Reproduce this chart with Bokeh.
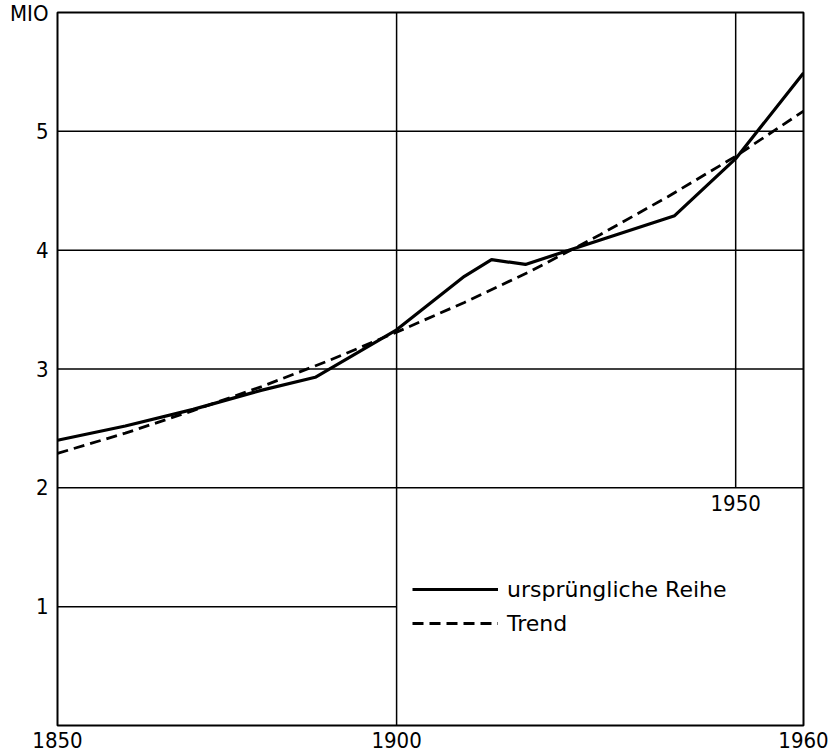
from bokeh.plotting import figure
from bokeh.models import Range1d, FixedTicker, Legend, LegendItem, Label
from bokeh.embed import file_html
from bokeh.resources import INLINE

# --- data ---
years_orig = [1850, 1860, 1870, 1880, 1888, 1900, 1910, 1914, 1919, 1941, 1950, 1960]
values_orig = [2.40, 2.52, 2.66, 2.82, 2.93, 3.33, 3.78, 3.92, 3.88, 4.29, 4.77, 5.49]

years_trend = [1850, 1860, 1870, 1880, 1890, 1900, 1910, 1920, 1930, 1940, 1950, 1960]
values_trend = [2.29, 2.46, 2.65, 2.85, 3.07, 3.31, 3.56, 3.83, 4.13, 4.45, 4.79, 5.17]

x_ticks = [1850, 1900, 1960]
y_ticks = [1, 2, 3, 4, 5]
y_unit = "MIO"
y_unit_at = 6
inner_year_label = 1950

# grid structure of the original drawing
hgrid_y = [1, 2, 3, 4, 5]
hgrid_x0 = [1850, 1850, 1850, 1850, 1850]
hgrid_x1 = [1900, 1960, 1960, 1960, 1960]
vgrid_x = [1900, 1950]
vgrid_y0 = [0, 2]
vgrid_y1 = [6, 6]

FONT = "DejaVu Sans Condensed"
FONT_LEG = "DejaVu Sans"
FS = "22px"

p = figure(width=833, height=754, output_backend="svg", toolbar_location=None,
           x_range=Range1d(1850, 1960), y_range=Range1d(0, 6),
           min_border_left=57, min_border_right=30, min_border_top=12, min_border_bottom=29)
p.xgrid.visible = False
p.ygrid.visible = False
p.outline_line_color = "black"
p.outline_line_width = 2
p.background_fill_color = "white"
p.border_fill_color = "white"

p.segment(x0=hgrid_x0, y0=hgrid_y, x1=hgrid_x1, y1=hgrid_y, line_color="black", line_width=1.5)
p.segment(x0=vgrid_x, y0=vgrid_y0, x1=vgrid_x, y1=vgrid_y1, line_color="black", line_width=1.5)

r1 = p.line(years_orig, values_orig, line_color="black", line_width=3.2)
r2 = p.line(years_trend, values_trend, line_color="black", line_width=2.8, line_dash="11 6")

for ax in (p.xaxis[0], p.yaxis[0]):
    ax.axis_line_color = None
    ax.major_tick_line_color = None
    ax.minor_tick_line_color = None
    ax.major_label_text_font = FONT
    ax.major_label_text_font_size = FS
    ax.major_label_text_color = "black"

p.xaxis[0].ticker = FixedTicker(ticks=x_ticks)
p.xaxis[0].major_label_standoff = 0
p.yaxis[0].ticker = FixedTicker(ticks=y_ticks + [y_unit_at])
p.yaxis[0].major_label_overrides = {y_unit_at: y_unit}
p.yaxis[0].major_label_standoff = 3

p.add_layout(Label(x=inner_year_label, y=2, y_offset=-7, text=str(inner_year_label),
                   text_align="center", text_baseline="top", text_font=FONT,
                   text_font_size=FS, text_color="black"))

legend = Legend(items=[LegendItem(label="ursprüngliche Reihe", renderers=[r1]),
                       LegendItem(label="Trend", renderers=[r2])],
                location=(355, 88), glyph_width=86, glyph_height=28, label_standoff=9,
                spacing=6, padding=0, margin=0, border_line_color=None,
                background_fill_alpha=0, label_text_font=FONT_LEG, label_text_font_size=FS,
                label_text_color="black")
p.add_layout(legend)

open("out.html", "w").write(file_html(p, INLINE))
